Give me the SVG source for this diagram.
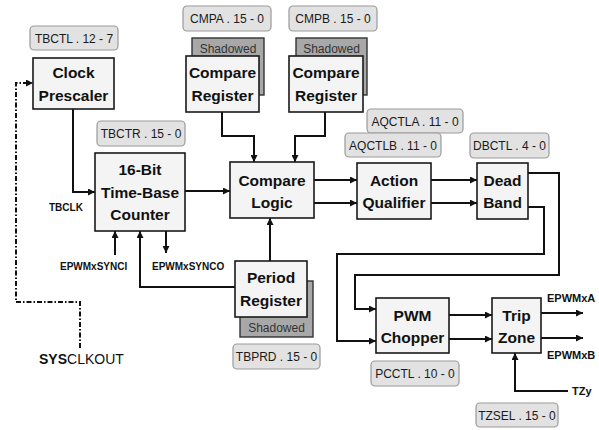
<svg xmlns="http://www.w3.org/2000/svg" width="599" height="430" viewBox="0 0 599 430">
<style>
.box{fill:#f4f4f4;stroke:#1a1a1a;stroke-width:1.6}
.sh{fill:#a8a8a8;stroke:#333;stroke-width:1.4}
.lbl{fill:#e2e2e2;stroke:#9a9a9a;stroke-width:1.2}
.bt{font-family:"Liberation Sans",Arial,sans-serif;font-weight:bold;font-size:15.5px;fill:#111;text-anchor:middle}
.lt{font-family:"Liberation Sans",Arial,sans-serif;font-size:12px;fill:#1a1a1a;text-anchor:middle}
.st{font-family:"Liberation Sans",Arial,sans-serif;font-size:12px;fill:#333;text-anchor:middle}
.sig{font-family:"Liberation Sans",Arial,sans-serif;font-weight:bold;font-size:10px;fill:#111}
.sig2{font-family:"Liberation Sans",Arial,sans-serif;font-weight:bold;font-size:11px;fill:#111}
.ln{fill:none;stroke:#111;stroke-width:2}
.dash{fill:none;stroke:#111;stroke-width:2;stroke-dasharray:5,2,1.5,2}
</style>
<defs>
<marker id="ah" viewBox="0 0 8 8" refX="8" refY="4" markerWidth="7" markerHeight="7" orient="auto" markerUnits="userSpaceOnUse"><path d="M0,0 L8,4 L0,8 z" fill="#111"/></marker>
</defs>

<g id="connectors">
<path class="ln" d="M73,109 V192 H95" marker-end="url(#ah)"/>
<path class="ln" d="M185,191 H230" marker-end="url(#ah)"/>
<path class="ln" d="M222,112 V136 H254 V162" marker-end="url(#ah)"/>
<path class="ln" d="M325,112 V136 H295 V162" marker-end="url(#ah)"/>
<path class="ln" d="M270,261 V218" marker-end="url(#ah)"/>
<path class="ln" d="M235,287 H140 V231" marker-end="url(#ah)"/>
<path class="ln" d="M115,255 V231" marker-end="url(#ah)"/>
<path class="ln" d="M166,231 V253" marker-end="url(#ah)"/>
<path class="ln" d="M314,180 H357" marker-end="url(#ah)"/>
<path class="ln" d="M314,203 H357" marker-end="url(#ah)"/>
<path class="ln" d="M431,180 H477" marker-end="url(#ah)"/>
<path class="ln" d="M431,203 H477" marker-end="url(#ah)"/>
<path class="ln" d="M528,173 H559 V275 H355 V309 H376" marker-end="url(#ah)"/>
<path class="ln" d="M528,207 H544 V254 H337 V341 H376" marker-end="url(#ah)"/>
<path class="ln" d="M449,315 H492" marker-end="url(#ah)"/>
<path class="ln" d="M449,339 H492" marker-end="url(#ah)"/>
<path class="ln" d="M541,313 H583" marker-end="url(#ah)"/>
<path class="ln" d="M541,338 H583" marker-end="url(#ah)"/>
<path class="ln" d="M568,391 H515 V353" marker-end="url(#ah)"/>
<path class="dash" d="M80,348 V302 H16 V83 H33" marker-end="url(#ah)"/>
</g>

<g id="tbctl-label"><rect class="lbl" x="30" y="26" width="88" height="24" rx="4"/><text class="lt" x="74" y="42.5">TBCTL . 12 - 7</text></g>
<g id="clock-prescaler"><rect class="box" x="33" y="58" width="81" height="51"/><text class="bt" x="73.5" y="77.5">Clock</text><text class="bt" x="73.5" y="100.5">Prescaler</text></g>

<g id="tbctr-label"><rect class="lbl" x="97" y="121" width="88" height="25" rx="4"/><text class="lt" x="141" y="138">TBCTR . 15 - 0</text></g>
<g id="time-base-counter"><rect class="box" x="95" y="153" width="90" height="78"/><text class="bt" x="140" y="174.5">16-Bit</text><text class="bt" x="140" y="197.5">Time-Base</text><text class="bt" x="140" y="219.5">Counter</text></g>

<g id="cmpa-label"><rect class="lbl" x="183" y="6" width="88" height="25" rx="4"/><text class="lt" x="227" y="23">CMPA . 15 - 0</text></g>
<g id="compare-register-a"><rect class="sh" x="192" y="38" width="72" height="57"/><text class="st" x="228" y="52.5">Shadowed</text><rect class="box" x="186" y="56" width="73" height="56"/><text class="bt" x="222.5" y="77.5">Compare</text><text class="bt" x="222.5" y="100.5">Register</text></g>

<g id="cmpb-label"><rect class="lbl" x="289" y="6" width="88" height="25" rx="4"/><text class="lt" x="333" y="23">CMPB . 15 - 0</text></g>
<g id="compare-register-b"><rect class="sh" x="296" y="38" width="71" height="57"/><text class="st" x="331.5" y="52.5">Shadowed</text><rect class="box" x="289" y="56" width="74" height="56"/><text class="bt" x="326" y="77.5">Compare</text><text class="bt" x="326" y="100.5">Register</text></g>

<g id="compare-logic"><rect class="box" x="230" y="162" width="84" height="56"/><text class="bt" x="272" y="185.5">Compare</text><text class="bt" x="272" y="207.5">Logic</text></g>

<g id="aqctla-label"><rect class="lbl" x="367" y="109" width="96" height="24" rx="4"/><text class="lt" x="415" y="125.5">AQCTLA . 11 - 0</text></g>
<g id="aqctlb-label"><rect class="lbl" x="345" y="133" width="96" height="24" rx="4"/><text class="lt" x="393" y="149.5">AQCTLB . 11 - 0</text></g>
<g id="action-qualifier"><rect class="box" x="357" y="163" width="74" height="56"/><text class="bt" x="394" y="185.5">Action</text><text class="bt" x="394" y="207.5">Qualifier</text></g>

<g id="dbctl-label"><rect class="lbl" x="470" y="133" width="79" height="25" rx="4"/><text class="lt" x="509.5" y="150">DBCTL . 4 - 0</text></g>
<g id="dead-band"><rect class="box" x="477" y="163" width="51" height="56"/><text class="bt" x="502.5" y="185.5">Dead</text><text class="bt" x="502.5" y="207.5">Band</text></g>

<g id="period-register"><rect class="sh" x="240" y="281" width="73" height="56"/><text class="st" x="276.5" y="331.5">Shadowed</text><rect class="box" x="235" y="261" width="72" height="56"/><text class="bt" x="271" y="282.5">Period</text><text class="bt" x="271" y="305.5">Register</text></g>
<g id="tbprd-label"><rect class="lbl" x="233" y="344" width="87" height="25" rx="4"/><text class="lt" x="276.5" y="361">TBPRD . 15 - 0</text></g>

<g id="pwm-chopper"><rect class="box" x="376" y="298" width="73" height="55"/><text class="bt" x="412.5" y="320.5">PWM</text><text class="bt" x="412.5" y="342.5">Chopper</text></g>
<g id="pcctl-label"><rect class="lbl" x="371" y="361" width="88" height="25" rx="4"/><text class="lt" x="415" y="378">PCCTL . 10 - 0</text></g>

<g id="trip-zone"><rect class="box" x="492" y="298" width="49" height="55"/><text class="bt" x="516.5" y="320.5">Trip</text><text class="bt" x="516.5" y="343">Zone</text></g>
<g id="tzsel-label"><rect class="lbl" x="476" y="403" width="82" height="24" rx="4"/><text class="lt" x="517" y="419.5">TZSEL . 15 - 0</text></g>

<g id="signals">
<text class="sig" x="49" y="210.5">TBCLK</text>
<text class="sig" x="60" y="269.5">EPWMxSYNCI</text>
<text class="sig" x="152" y="269.5">EPWMxSYNCO</text>
<text class="sig2" x="547" y="302">EPWMxA</text>
<text class="sig2" x="547" y="359">EPWMxB</text>
<text class="sig2" x="572" y="395">TZy</text>
<text x="39" y="364" font-family="'Liberation Sans',Arial,sans-serif" font-size="14px" fill="#111"><tspan font-weight="bold">SYS</tspan>CLKOUT</text>
</g>
</svg>
